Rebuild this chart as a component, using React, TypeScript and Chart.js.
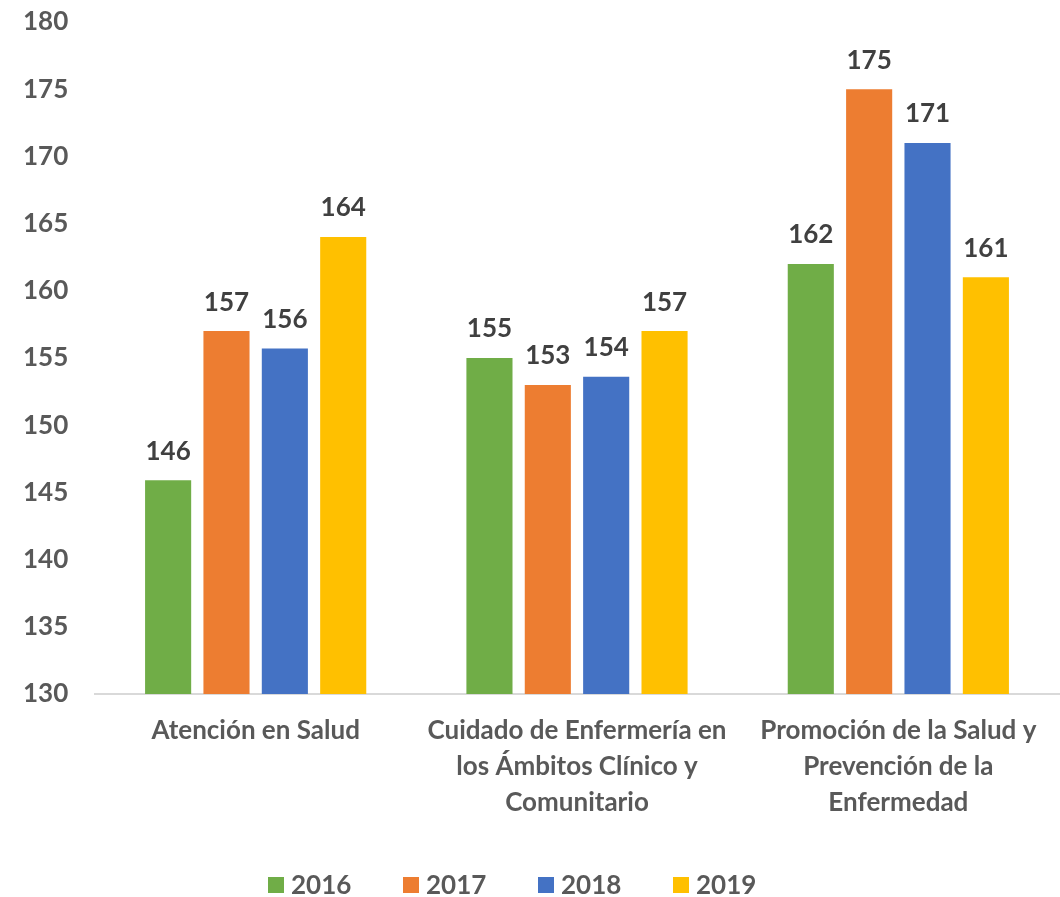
import React, { useEffect, useRef } from "react";
import { Chart, registerables } from "chart.js";

Chart.register(...registerables);

const categories: string[][] = [
  ["Atención en Salud"],
  ["Cuidado de Enfermería en", "los Ámbitos Clínico y", "Comunitario"],
  ["Promoción de la Salud y", "Prevención de la", "Enfermedad"],
];
const seriesNames = ["2016", "2017", "2018", "2019"];
const values2016 = [145.9, 155.0, 162.0];
const values2017 = [157.0, 153.0, 175.0];
const values2018 = [155.7, 153.6, 171.0];
const values2019 = [164.0, 157.0, 161.0];
const seriesColors = ["#70AD47", "#ED7D31", "#4472C4", "#FFC000"];
const yMin = 130;
const yMax = 180;
const yStep = 5;

const FONT = "Lato, 'Open Sans', sans-serif";
const FS = 26;

const dataLabelPlugin = {
  id: "dataLabels",
  afterDatasetsDraw(chart: any) {
    const ctx = chart.ctx;
    ctx.save();
    ctx.font = `bold ${FS}px ${FONT}`;
    ctx.fillStyle = "#404040";
    ctx.textAlign = "center";
    ctx.textBaseline = "middle";
    chart.data.datasets.forEach((ds: any, i: number) => {
      const meta = chart.getDatasetMeta(i);
      meta.data.forEach((bar: any, j: number) => {
        const v = ds.data[j];
        ctx.fillText(String(Math.round(v)), bar.x, bar.y - 29);
      });
    });
    ctx.restore();
  },
};

const legendPlugin = {
  id: "customLegend",
  afterDraw(chart: any) {
    const ctx = chart.ctx;
    ctx.save();
    ctx.font = `bold ${FS}px ${FONT}`;
    ctx.textBaseline = "middle";
    ctx.textAlign = "left";
    const box = 16;
    const boxGap = 7;
    const step = 135;
    let x = chart.width / 2 - 262;
    const y = 885;
    chart.data.datasets.forEach((ds: any) => {
      ctx.fillStyle = ds.backgroundColor;
      ctx.fillRect(x, y - box / 2, box, box);
      ctx.fillStyle = "#595959";
      ctx.fillText(ds.label, x + box + boxGap, y + 1);
      x += step;
    });
    ctx.restore();
  },
};

export default function App() {
  const ref = useRef<HTMLCanvasElement | null>(null);
  useEffect(() => {
    if (!ref.current) return;
    const seriesValues = [values2016, values2017, values2018, values2019];
    const chart = new Chart(ref.current, {
      type: "bar",
      data: {
        labels: categories,
        datasets: seriesNames.map((name, i) => ({
          label: name,
          data: seriesValues[i],
          backgroundColor: seriesColors[i],
          categoryPercentage: 0.7265,
          barPercentage: 0.79,
        })),
      },
      options: {
        animation: false,
        responsive: false,
        maintainAspectRatio: false,
        layout: { padding: { top: 22, right: 1, left: 23, bottom: 0 } },
        plugins: {
          legend: { display: false },
          tooltip: { enabled: false },
          title: { display: false },
        },
        scales: {
          x: {
            grid: { display: false, drawTicks: false },
            border: { display: true, color: "#D9D9D9", width: 2 },
            ticks: {
              color: "#595959",
              font: { family: FONT, size: FS, weight: "bold", lineHeight: 36 / FS },
              padding: 19,
              maxRotation: 0,
              autoSkip: false,
            },
            afterFit(scale: any) {
              scale.height = 203;
            },
          },
          y: {
            min: yMin,
            max: yMax,
            grid: { display: false, drawTicks: false },
            border: { display: false },
            ticks: {
              stepSize: yStep,
              color: "#595959",
              font: { family: FONT, size: FS, weight: "bold" },
              padding: 0,
              crossAlign: "far",
            },
            afterFit(scale: any) {
              scale.width = 72;
            },
          },
        },
      },
      plugins: [dataLabelPlugin, legendPlugin],
    });
    return () => chart.destroy();
  }, []);
  return (
    <div style={{ position: "absolute", left: 0, top: 0, width: 1060, height: 897, background: "#fff" }}>
      <canvas ref={ref} width={1060} height={897} style={{ display: "block", width: 1060, height: 897 }} />
    </div>
  );
}
